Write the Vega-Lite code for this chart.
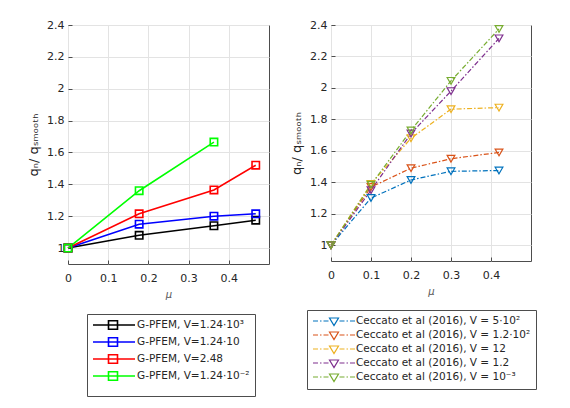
{
  "$schema": "https://vega.github.io/schema/vega-lite/v6.json",
  "background": "white",
  "padding": {"left": 27, "top": 18, "right": 5, "bottom": 5},
  "datasets": {
    "gpfem": [
      {"mu": 0, "q": 1, "series": "G-PFEM, V=1.24·10³"},
      {"mu": 0.177, "q": 1.08, "series": "G-PFEM, V=1.24·10³"},
      {"mu": 0.363, "q": 1.14, "series": "G-PFEM, V=1.24·10³"},
      {"mu": 0.467, "q": 1.175, "series": "G-PFEM, V=1.24·10³"},
      {"mu": 0, "q": 1, "series": "G-PFEM, V=1.24·10"},
      {"mu": 0.177, "q": 1.15, "series": "G-PFEM, V=1.24·10"},
      {"mu": 0.363, "q": 1.2, "series": "G-PFEM, V=1.24·10"},
      {"mu": 0.467, "q": 1.215, "series": "G-PFEM, V=1.24·10"},
      {"mu": 0, "q": 1, "series": "G-PFEM, V=2.48"},
      {"mu": 0.177, "q": 1.215, "series": "G-PFEM, V=2.48"},
      {"mu": 0.363, "q": 1.365, "series": "G-PFEM, V=2.48"},
      {"mu": 0.467, "q": 1.52, "series": "G-PFEM, V=2.48"},
      {"mu": 0, "q": 1, "series": "G-PFEM, V=1.24·10⁻²"},
      {"mu": 0.177, "q": 1.36, "series": "G-PFEM, V=1.24·10⁻²"},
      {"mu": 0.363, "q": 1.665, "series": "G-PFEM, V=1.24·10⁻²"}
    ],
    "ceccato": [
      {"mu": 0, "q": 1, "series": "Ceccato et al (2016), V = 5·10²"},
      {"mu": 0.1, "q": 1.3, "series": "Ceccato et al (2016), V = 5·10²"},
      {"mu": 0.2, "q": 1.415, "series": "Ceccato et al (2016), V = 5·10²"},
      {"mu": 0.3, "q": 1.47, "series": "Ceccato et al (2016), V = 5·10²"},
      {"mu": 0.42, "q": 1.475, "series": "Ceccato et al (2016), V = 5·10²"},
      {"mu": 0, "q": 1, "series": "Ceccato et al (2016), V = 1.2·10²"},
      {"mu": 0.1, "q": 1.37, "series": "Ceccato et al (2016), V = 1.2·10²"},
      {"mu": 0.2, "q": 1.49, "series": "Ceccato et al (2016), V = 1.2·10²"},
      {"mu": 0.3, "q": 1.55, "series": "Ceccato et al (2016), V = 1.2·10²"},
      {"mu": 0.42, "q": 1.59, "series": "Ceccato et al (2016), V = 1.2·10²"},
      {"mu": 0, "q": 1, "series": "Ceccato et al (2016), V = 12"},
      {"mu": 0.1, "q": 1.39, "series": "Ceccato et al (2016), V = 12"},
      {"mu": 0.2, "q": 1.68, "series": "Ceccato et al (2016), V = 12"},
      {"mu": 0.3, "q": 1.865, "series": "Ceccato et al (2016), V = 12"},
      {"mu": 0.42, "q": 1.875, "series": "Ceccato et al (2016), V = 12"},
      {"mu": 0, "q": 1, "series": "Ceccato et al (2016), V = 1.2"},
      {"mu": 0.1, "q": 1.35, "series": "Ceccato et al (2016), V = 1.2"},
      {"mu": 0.2, "q": 1.71, "series": "Ceccato et al (2016), V = 1.2"},
      {"mu": 0.3, "q": 1.98, "series": "Ceccato et al (2016), V = 1.2"},
      {"mu": 0.42, "q": 2.315, "series": "Ceccato et al (2016), V = 1.2"},
      {"mu": 0, "q": 1, "series": "Ceccato et al (2016), V = 10⁻³"},
      {"mu": 0.1, "q": 1.385, "series": "Ceccato et al (2016), V = 10⁻³"},
      {"mu": 0.2, "q": 1.73, "series": "Ceccato et al (2016), V = 10⁻³"},
      {"mu": 0.3, "q": 2.045, "series": "Ceccato et al (2016), V = 10⁻³"},
      {"mu": 0.42, "q": 2.375, "series": "Ceccato et al (2016), V = 10⁻³"}
    ]
  },
  "spacing": 20,
  "hconcat": [
    {
      "width": 201,
      "height": 239,
      "data": {"name": "gpfem"},
      "encoding": {
        "x": {"field": "mu", "type": "quantitative", "title": "μ",
              "scale": {"domain": [0, 0.5], "nice": false},
              "axis": {"values": [0, 0.1, 0.2, 0.3, 0.4]}},
        "y": {"field": "q", "type": "quantitative", "title": "qₙ/ qₛₘₒₒₜₕ",
              "scale": {"domain": [0.9, 2.4], "nice": false, "zero": false},
              "axis": {"values": [1, 1.2, 1.4, 1.6, 1.8, 2, 2.2, 2.4]}}
      },
      "layer": [
        {
          "mark": {"type": "line", "strokeWidth": 1.6},
          "encoding": {
            "color": {"field": "series", "type": "nominal",
              "scale": {"domain": ["G-PFEM, V=1.24·10³", "G-PFEM, V=1.24·10", "G-PFEM, V=2.48", "G-PFEM, V=1.24·10⁻²"],
                        "range": ["#000000", "#0000ff", "#ff0000", "#00ff00"]},
              "legend": {"title": " ", "titleOrient": "bottom", "titleFontSize": 6, "titlePadding": 2,
                         "orient": "none", "legendX": 19, "legendY": 289,
                         "symbolType": "M-1,0L7.4,0M2.1,-0.85L3.9,-0.85L3.9,0.85L2.1,0.85Z",
                         "symbolSize": 100, "labelOffset": 33,
                         "symbolStrokeWidth": 1.6, "symbolFillColor": "transparent"}},
            "order": {"field": "mu"}
          }
        },
        {
          "mark": {"type": "point", "shape": "square", "filled": false, "size": 55, "strokeWidth": 1.6, "opacity": 1},
          "encoding": {
            "color": {"field": "series", "type": "nominal"}
          }
        }
      ]
    },
    {
      "width": 200,
      "height": 236,
      "data": {"name": "ceccato"},
      "encoding": {
        "x": {"field": "mu", "type": "quantitative", "title": "μ",
              "scale": {"domain": [0, 0.5], "nice": false},
              "axis": {"values": [0, 0.1, 0.2, 0.3, 0.4]}},
        "y": {"field": "q", "type": "quantitative", "title": "qₙ/ qₛₘₒₒₜₕ",
              "scale": {"domain": [0.9, 2.4], "nice": false, "zero": false},
              "axis": {"values": [1, 1.2, 1.4, 1.6, 1.8, 2, 2.2, 2.4]}}
      },
      "layer": [
        {
          "mark": {"type": "line", "strokeWidth": 1.2, "strokeDash": [5, 2, 1.5, 2]},
          "encoding": {
            "color": {"field": "series", "type": "nominal",
              "scale": {"domain": ["Ceccato et al (2016), V = 5·10²", "Ceccato et al (2016), V = 1.2·10²", "Ceccato et al (2016), V = 12", "Ceccato et al (2016), V = 1.2", "Ceccato et al (2016), V = 10⁻³"],
                        "range": ["#0072bd", "#d95319", "#edb120", "#7e2f8e", "#77ac30"]},
              "legend": {"title": null, "orient": "none", "legendX": -24, "legendY": 285,
                         "symbolType": "M-1,0L0,0M0.4,0L0.7,0M1.1,0L2.1,0M4.3,0L5.3,0M5.7,0L6,0M6.4,0L7.4,0M2.3,-0.6L4.1,-0.6L3.2,0.9Z",
                         "symbolSize": 100, "labelOffset": 32,
                         "symbolStrokeWidth": 1.2, "symbolFillColor": "transparent"}},
            "order": {"field": "mu"}
          }
        },
        {
          "mark": {"type": "point", "shape": "triangle-down", "filled": false, "size": 60, "strokeWidth": 1.2, "opacity": 1},
          "encoding": {
            "color": {"field": "series", "type": "nominal"}
          }
        }
      ]
    }
  ],
  "resolve": {"scale": {"color": "independent"}, "legend": {"color": "independent"}},
  "config": {
    "font": "DejaVu Sans",
    "view": {"stroke": "#4d4d4d", "strokeWidth": 1},
    "axis": {
      "grid": true,
      "gridColor": "#e3e3e3",
      "domain": false,
      "ticks": true,
      "tickSize": -4,
      "tickColor": "#4d4d4d",
      "labelFontSize": 11,
      "labelColor": "#262626",
      "labelFlush": false,
      "format": "~g",
      "titleFontWeight": "normal",
      "titleColor": "#262626"
    },
    "axisX": {"labelPadding": 12, "titleFontSize": 10, "titleFontStyle": "italic", "titleColor": "#555555", "titlePadding": 6},
    "axisY": {"labelPadding": 8, "titleFontSize": 13, "titlePadding": 6},
    "legend": {
      "labelFontSize": 10.5,
      "labelColor": "#262626",
      "labelLimit": 300,
      "strokeColor": "#4d4d4d",
      "fillColor": "white",
      "padding": 5,
      "rowPadding": 1,
      "symbolOffset": 0
    }
  }
}
